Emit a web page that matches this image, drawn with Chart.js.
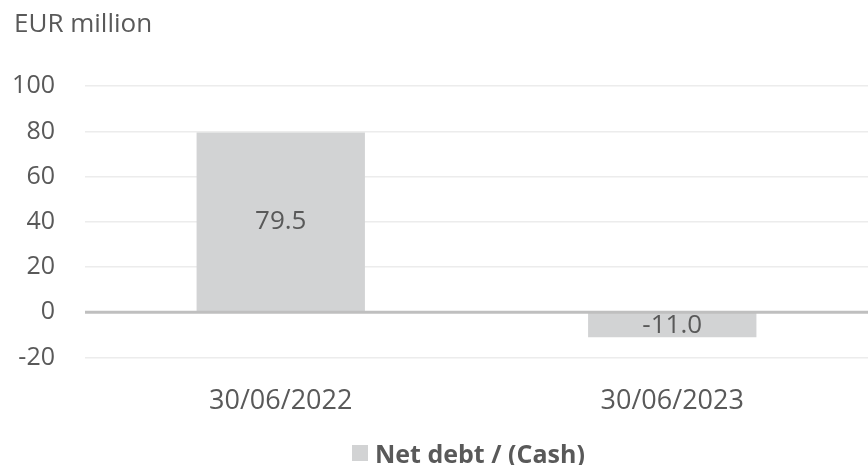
<!DOCTYPE html>
<html>
<head>
<meta charset="utf-8">
<script src="https://cdn.jsdelivr.net/npm/chart.js@4.4.1/dist/chart.umd.min.js"></script>
<style>
    html, body { margin: 0; padding: 0; background: #fff; }
    #wrap { position: relative; width: 868px; height: 465px; overflow: hidden; }
    #legend {
        position: absolute; left: 352px; top: 436px;
        font: bold 25px "Open Sans", sans-serif; color: #595959;
        display: flex; align-items: center; white-space: nowrap;
    }
    #legend .box { display: inline-block; width: 16px; height: 16px; background: #d2d3d4; margin-right: 7px; }
</style>
</head>
<body>
<div id="wrap">
    <canvas id="chart" width="868" height="465"></canvas>
    <div id="legend"><span class="box"></span><span>Net debt / (Cash)</span></div>
</div>
<script>
    const categories = ["30/06/2022", "30/06/2023"];
    const netDebt = [79.5, -11.0];
    const seriesName = "Net debt / (Cash)";
    const yTicks = [-20, 0, 20, 40, 60, 80, 100];

    const textColor = "#595959";
    const barColor = "#d2d3d4";

    const valueLabels = {
        id: "valueLabels",
        afterDatasetsDraw(chart) {
            const { ctx, chartArea } = chart;
            const y0 = chart.scales.y.getPixelForValue(0);
            ctx.save();
            ctx.strokeStyle = "#bfbfbf";
            ctx.lineWidth = 3;
            ctx.beginPath();
            ctx.moveTo(chartArea.left, y0);
            ctx.lineTo(chartArea.right, y0);
            ctx.stroke();

            ctx.font = '26px "Open Sans"';
            ctx.fillStyle = textColor;
            ctx.textAlign = "center";
            ctx.textBaseline = "middle";
            chart.getDatasetMeta(0).data.forEach((bar, i) => {
                const { x, y, base } = bar.getProps(["x", "y", "base"], true);
                ctx.fillText(netDebt[i].toFixed(1), x, (y + base) / 2);
            });
            ctx.restore();
        }
    };

    new Chart(document.getElementById("chart"), {
        type: "bar",
        data: {
            labels: categories,
            datasets: [{
                label: seriesName,
                data: netDebt,
                backgroundColor: barColor,
                borderWidth: 0,
                categoryPercentage: 1,
                barPercentage: 0.43
            }]
        },
        options: {
            responsive: false,
            animation: false,
            layout: { padding: { left: 14, right: -6, top: 0, bottom: 19 } },
            plugins: {
                legend: { display: false },
                tooltip: { enabled: false },
                title: {
                    display: true,
                    text: "EUR million",
                    align: "start",
                    color: textColor,
                    font: { family: "Open Sans", size: 26, weight: "normal" },
                    padding: { top: 9, bottom: 46 }
                }
            },
            scales: {
                x: {
                    grid: { display: false, drawTicks: false },
                    border: { display: false },
                    ticks: {
                        color: textColor,
                        padding: 28,
                        font: { family: "Open Sans", size: 27 }
                    }
                },
                y: {
                    min: -20,
                    max: 100,
                    afterFit: (scale) => { scale.width = 71; },
                    afterBuildTicks: (scale) => { scale.ticks = yTicks.map(v => ({ value: v })); },
                    grid: {
                        drawTicks: false,
                        color: (ctx) => ctx.tick && ctx.tick.value === 0 ? "rgba(0,0,0,0)" : "#ececec",
                        lineWidth: 1.5
                    },
                    border: { display: false },
                    ticks: {
                        color: textColor,
                        padding: 30,
                        font: { family: "Open Sans", size: 25 }
                    }
                }
            }
        },
        plugins: [valueLabels]
    });
</script>
</body>
</html>
